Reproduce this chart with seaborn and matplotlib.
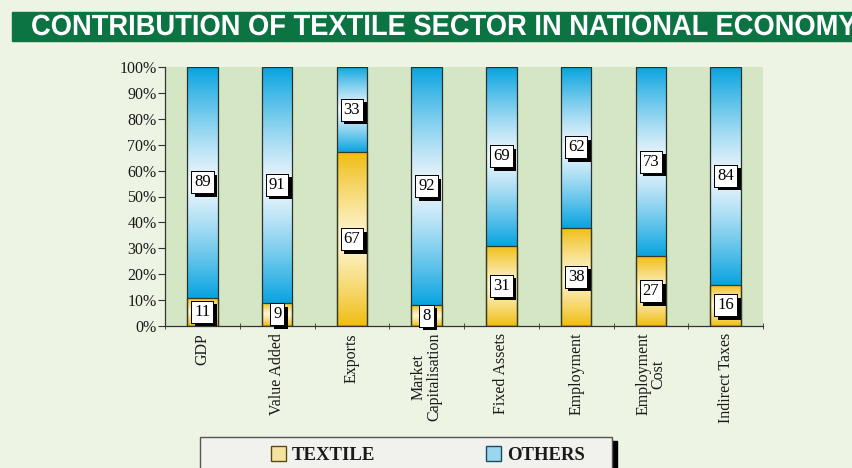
import numpy as np
import pandas as pd
import matplotlib
matplotlib.use("Agg")
import matplotlib.pyplot as plt
import matplotlib.patheffects as pe
from matplotlib.patches import Rectangle, Patch
from matplotlib.transforms import Affine2D
from matplotlib.colors import to_rgb
import seaborn as sns

# Share of the textile sector in each indicator (percent)
categories = ["GDP", "Value Added", "Exports", "Market\nCapitalisation",
              "Fixed Assets", "Employment", "Employment\nCost", "Indirect Taxes"]
textile = [11, 9, 67, 8, 31, 38, 27, 16]
others = [89, 91, 33, 92, 69, 62, 73, 84]
series_names = ["TEXTILE", "OTHERS"]
y_ticks = [0, 10, 20, 30, 40, 50, 60, 70, 80, 90, 100]
title = "CONTRIBUTION OF TEXTILE SECTOR IN NATIONAL ECONOMY"

W, H = 852, 468
fig = plt.figure(figsize=(W / 100, H / 100), dpi=100)
fig.patch.set_facecolor("#eef4e4")


class HStretch(pe.AbstractPathEffect):
    """Squeeze glyphs horizontally about a fixed x position (display pixels)."""

    def __init__(self, sx, x0):
        super().__init__()
        self.sx, self.x0 = sx, x0

    def draw_path(self, renderer, gc, tpath, affine, rgbFace=None):
        aff = affine + Affine2D().translate(-self.x0, 0).scale(self.sx, 1).translate(self.x0, 0)
        renderer.draw_path(gc, tpath, aff, rgbFace)


# title band
fig.patches.append(Rectangle((12 / W, 1 - 41 / H), 1 - 12 / W, 29 / H,
                             transform=fig.transFigure, color="#0c7443", zorder=0))
title_x = 31
ttl = fig.text(title_x / W, 1 - 35 / H, title, color="white", fontsize=21,
               fontweight="bold", va="baseline", ha="left",
               family=["Liberation Sans", "DejaVu Sans"])
renderer = fig.canvas.get_renderer()
raw_w = ttl.get_window_extent(renderer).width
ttl.set_path_effects([HStretch(827 / raw_w, title_x)])

ax = fig.add_axes([165 / W, 1 - 326 / H, (763 - 165) / W, (326 - 67) / H])
ax.set_facecolor("#d5e6c4")

df = pd.DataFrame({"category": categories, "textile": textile, "others": others})
df["total"] = df["textile"] + df["others"]
serif = ["Liberation Serif", "DejaVu Serif"]

bar_w = 0.41
# full stacked height first, textile segment drawn over its lower part
sns.barplot(data=df, x="category", y="total", ax=ax, width=bar_w,
            facecolor="none", edgecolor="#2a3030", linewidth=0.9, zorder=3)
sns.barplot(data=df, x="category", y="textile", ax=ax, width=bar_w,
            facecolor="none", edgecolor="#3a3a20", linewidth=0.9, zorder=3.1)

n = len(categories)
total_bars = ax.patches[:n]
textile_bars = ax.patches[n:2 * n]


def shade(edge, center, rows=200):
    t = np.linspace(-1, 1, rows)
    w = np.clip(np.abs(t), 0, 1) ** 1.2
    e, c = np.array(to_rgb(edge)), np.array(to_rgb(center))
    col = c[None, :] + (e - c)[None, :] * w[:, None]
    return col[:, None, :]


def fill(p, y0, y1, edge, center):
    x0 = p.get_x()
    x1 = x0 + p.get_width()
    im = ax.imshow(shade(edge, center), extent=[x0, x1, y0, y1], aspect="auto",
                   origin="lower", zorder=2, interpolation="bilinear")
    im.set_clip_path(p)


for i in range(n):
    fill(textile_bars[i], 0, textile[i], "#f0bd12", "#fdf5d0")
    fill(total_bars[i], textile[i], textile[i] + others[i], "#08a4e0", "#eef6fc")

# value labels: white boxes with a solid drop shadow
for i in range(n):
    for val, base in ((textile[i], 0), (others[i], textile[i])):
        t = ax.text(i, base + val / 2, str(val), ha="center", va="center",
                    fontsize=12, family=serif, color="black", zorder=5,
                    bbox=dict(boxstyle="square,pad=0.18", fc="white", ec="black", lw=0.7))
        t.get_bbox_patch().set_path_effects(
            [pe.withSimplePatchShadow(offset=(2.6, -2.6), shadow_rgbFace="black", alpha=1),
             pe.Normal()])

ax.set_xlim(-0.5, n - 0.5)
ax.set_ylim(0, 100)
ax.set_yticks(y_ticks)
ax.set_yticklabels([f"{v}%" for v in y_ticks], family=serif, fontsize=11.5, color="#1a1a1a")
ax.set_xticks(range(n))
ax.set_xticklabels(categories, rotation=90, family=serif, fontsize=11.5,
                   color="#1a1a1a", multialignment="center", va="top", ha="center",
                   linespacing=0.95)
ax.set_xticks(np.arange(n + 1) - 0.5, minor=True)
ax.tick_params(axis="x", which="major", length=0, pad=5)
ax.tick_params(axis="x", which="minor", length=5, direction="inout", color="#333")
ax.tick_params(axis="y", length=5, direction="out", color="#333", pad=1)
ax.set_xlabel("")
ax.set_ylabel("")
for s in ("top", "right"):
    ax.spines[s].set_visible(False)
for s in ("left", "bottom"):
    ax.spines[s].set_color("#333")
    ax.spines[s].set_linewidth(0.9)

# legend panel with a hard shadow on its right side
fig.patches.append(Rectangle((205 / W, -0.01), 412 / W, (1 - 441 / H) + 0.01,
                             transform=fig.transFigure, color="black", zorder=1))
fig.patches.append(Rectangle((200 / W, -0.01), 412 / W, (1 - 437 / H) + 0.01,
                             transform=fig.transFigure, facecolor="#f1f2ee",
                             edgecolor="#555", linewidth=1.0, zorder=1.1))

handles = [Patch(facecolor="#f6e3a0", edgecolor="#5a4a10", label=series_names[0]),
           Patch(facecolor="#9ad6f0", edgecolor="#1a4a60", label=series_names[1])]
leg = fig.legend(handles=handles, loc="center left", ncol=2,
                 bbox_to_anchor=(271 / W, 1 - 455 / H),
                 prop={"family": serif, "weight": "bold", "size": 13.5},
                 frameon=False, borderpad=0, borderaxespad=0,
                 handlelength=0.82, handleheight=0.82, handletextpad=0.3,
                 columnspacing=5.9)
leg.set_zorder(2)
for txt in leg.get_texts():
    txt.set_color("#1a1a1a")

fig.savefig("out.png", dpi=100, facecolor=fig.get_facecolor())
